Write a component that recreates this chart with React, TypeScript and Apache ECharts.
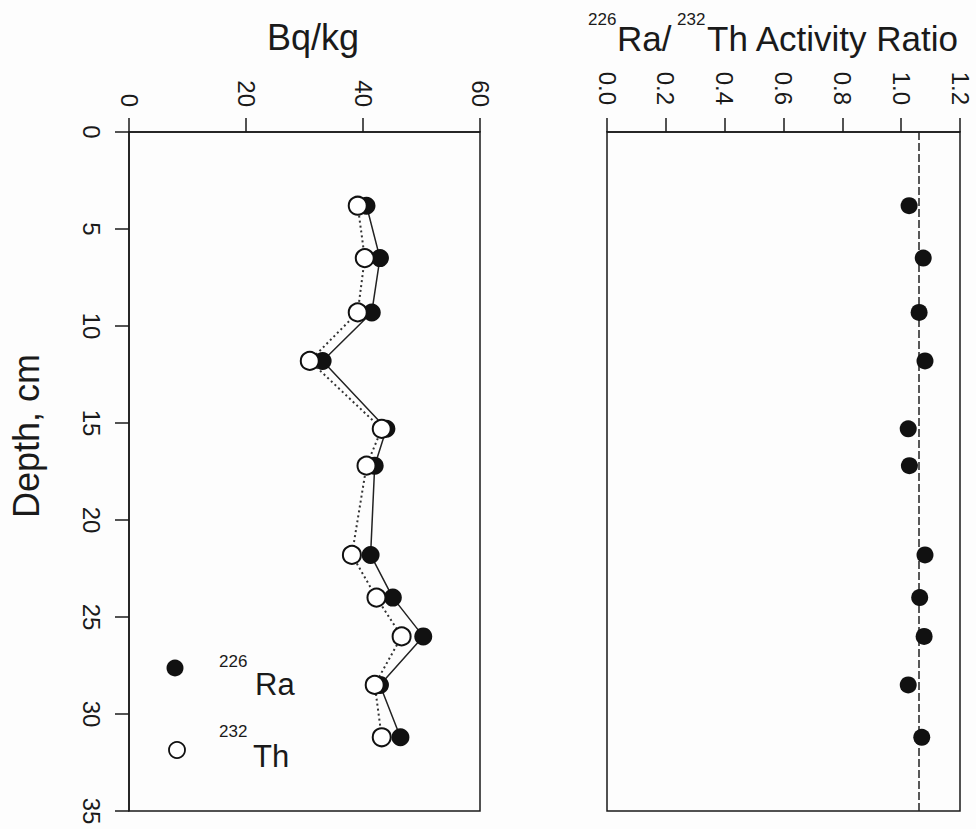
import React, { useEffect, useRef } from "react";
import * as echarts from "echarts";

// Sample depths (cm) shared by both panels
const depthCm = [3.8, 6.5, 9.3, 11.8, 15.3, 17.2, 21.8, 24.0, 26.0, 28.5, 31.2];
// Activity concentrations, Bq/kg
const ra226 = [40.6, 42.9, 41.5, 33.1, 44.0, 42.0, 41.3, 45.1, 50.3, 42.9, 46.4];
const th232 = [39.1, 40.3, 39.1, 30.9, 43.2, 40.6, 38.1, 42.3, 46.6, 42.0, 43.2];
// 226Ra/232Th activity ratio
const activityRatio = [1.027, 1.075, 1.061, 1.081, 1.024, 1.028, 1.081, 1.063, 1.078, 1.024, 1.07];
// Mean ratio, drawn as the dashed reference line
const meanRatio = 1.056;

// Axis ranges and tick labels
const bqRange = { min: 0, max: 60, interval: 20 };
const ratioRange = { min: 0, max: 1.2, interval: 0.2 };
const depthRange = { min: 0, max: 35, interval: 5 };
const bqTicks = [0, 20, 40, 60];
const ratioTicks = [0, 0.2, 0.4, 0.6, 0.8, 1.0, 1.2];
const depthTicks = [0, 5, 10, 15, 20, 25, 30, 35];

const FONT = "'Liberation Sans', Arial, Helvetica, sans-serif";
const INK = "#1a1a1a";
const TICK_FONT = `24px ${FONT}`;

export default function App() {
  const ref = useRef<HTMLDivElement>(null);

  useEffect(() => {
    if (!ref.current) return;
    const chart = echarts.init(ref.current, undefined, { renderer: "svg" });

    const pairs = (xs: number[]) => xs.map((v, i) => [v, depthCm[i]]);

    const topAxis = (range: { min: number; max: number; interval: number }, gridIndex: number) => ({
      type: "value",
      gridIndex,
      position: "top",
      min: range.min,
      max: range.max,
      interval: range.interval,
      axisLine: { show: true, lineStyle: { color: INK, width: 1.5 } },
      axisTick: { show: true, inside: false, length: 14, lineStyle: { color: INK, width: 1.5 } },
      // tick labels are drawn below as clockwise-rotated text
      axisLabel: { show: false },
      splitLine: { show: false },
    });

    const option: any = {
      animation: false,
      backgroundColor: "#fdfdfd",
      grid: [
        { left: 129, top: 132, width: 351, height: 679, show: true, borderColor: INK, borderWidth: 1.5, backgroundColor: "transparent" },
        { left: 607, top: 132, width: 353, height: 679, show: true, borderColor: INK, borderWidth: 1.5, backgroundColor: "transparent" },
      ],
      xAxis: [topAxis(bqRange, 0), topAxis(ratioRange, 1)],
      yAxis: [
        {
          type: "value",
          gridIndex: 0,
          inverse: true,
          min: depthRange.min,
          max: depthRange.max,
          interval: depthRange.interval,
          axisLine: { show: true, lineStyle: { color: INK, width: 1.5 } },
          axisTick: { show: true, inside: false, length: 14, lineStyle: { color: INK, width: 1.5 } },
          axisLabel: { show: false },
          splitLine: { show: false },
        },
        {
          type: "value",
          gridIndex: 1,
          inverse: true,
          min: depthRange.min,
          max: depthRange.max,
          interval: depthRange.interval,
          axisLine: { show: false },
          axisTick: { show: false },
          axisLabel: { show: false },
          splitLine: { show: false },
        },
      ],
      series: [
        {
          name: "226Ra",
          type: "line",
          xAxisIndex: 0,
          yAxisIndex: 0,
          data: pairs(ra226),
          symbol: "circle",
          symbolSize: 18,
          itemStyle: { color: "#111", opacity: 1 },
          lineStyle: { color: "#222", width: 1.5 },
          z: 2,
        },
        {
          name: "232Th",
          type: "line",
          xAxisIndex: 0,
          yAxisIndex: 0,
          data: pairs(th232),
          symbol: "circle",
          symbolSize: 18,
          itemStyle: { color: "#ffffff", borderColor: "#111", borderWidth: 2, opacity: 1 },
          lineStyle: { color: "#333", width: 2, type: [2, 3] },
          z: 3,
        },
        {
          name: "ratio",
          type: "scatter",
          xAxisIndex: 1,
          yAxisIndex: 1,
          data: pairs(activityRatio),
          symbol: "circle",
          symbolSize: 17,
          itemStyle: { color: "#111", opacity: 1 },
          z: 3,
          markLine: {
            silent: true,
            symbol: "none",
            label: { show: false },
            lineStyle: { color: "#222", width: 1.5, type: [8, 3] },
            data: [{ xAxis: meanRatio }],
            z: 2,
          },
        },
      ],
    };

    chart.setOption(option);

    // Tick labels read top-to-bottom; place them from the axes' own scales
    const topLabel = (value: number, text: string, xAxisIndex: number, yAxisIndex: number, margin: number) => {
      const [px] = chart.convertToPixel({ xAxisIndex, yAxisIndex } as any, [value, depthRange.min]) as number[];
      const [, py] = chart.convertToPixel({ xAxisIndex, yAxisIndex } as any, [value, depthRange.min]) as number[];
      return {
        type: "text",
        x: px,
        y: py - margin,
        rotation: -Math.PI / 2,
        style: { text, font: TICK_FONT, fill: INK, textAlign: "right", textVerticalAlign: "middle" },
      };
    };
    const leftLabel = (value: number) => {
      const [px, py] = chart.convertToPixel({ xAxisIndex: 0, yAxisIndex: 0 } as any, [bqRange.min, value]) as number[];
      return {
        type: "text",
        x: px - 26,
        y: py,
        rotation: -Math.PI / 2,
        style: { text: String(value), font: TICK_FONT, fill: INK, textAlign: "center", textVerticalAlign: "top" },
      };
    };

    const graphic: any[] = [
      ...bqTicks.map((v) => topLabel(v, String(v), 0, 0, 25)),
      ...ratioTicks.map((v) => topLabel(v, v.toFixed(1), 1, 1, 27)),
      ...depthTicks.map((v) => leftLabel(v)),
      // Panel titles
      { type: "text", x: 313, y: 37, style: { text: "Bq/kg", font: `36px ${FONT}`, fill: INK, textAlign: "center", textVerticalAlign: "middle" } },
      { type: "text", x: 588, y: 19, style: { text: "226", font: `17px ${FONT}`, fill: INK, textAlign: "left", textVerticalAlign: "middle" } },
      { type: "text", x: 617, y: 38, style: { text: "Ra/", font: `35px ${FONT}`, fill: INK, textAlign: "left", textVerticalAlign: "middle" } },
      { type: "text", x: 677, y: 19, style: { text: "232", font: `17px ${FONT}`, fill: INK, textAlign: "left", textVerticalAlign: "middle" } },
      { type: "text", x: 707, y: 38, style: { text: "Th Activity Ratio", font: `35px ${FONT}`, fill: INK, textAlign: "left", textVerticalAlign: "middle" } },
      // Depth axis title, reading bottom to top
      { type: "text", x: 26, y: 436, rotation: Math.PI / 2, style: { text: "Depth, cm", font: `36px ${FONT}`, fill: INK, textAlign: "center", textVerticalAlign: "middle" } },
      // Legend
      { type: "circle", shape: { cx: 175, cy: 668, r: 8.5 }, style: { fill: "#111" } },
      { type: "circle", shape: { cx: 177, cy: 750, r: 8 }, style: { fill: "#fff", stroke: "#111", lineWidth: 1.8 } },
      { type: "text", x: 219, y: 661, style: { text: "226", font: `17px ${FONT}`, fill: INK, textAlign: "left", textVerticalAlign: "middle" } },
      { type: "text", x: 255, y: 684, style: { text: "Ra", font: `31px ${FONT}`, fill: INK, textAlign: "left", textVerticalAlign: "middle" } },
      { type: "text", x: 219, y: 731, style: { text: "232", font: `17px ${FONT}`, fill: INK, textAlign: "left", textVerticalAlign: "middle" } },
      { type: "text", x: 253, y: 756, style: { text: "Th", font: `31px ${FONT}`, fill: INK, textAlign: "left", textVerticalAlign: "middle" } },
    ];

    chart.setOption({ graphic });
    return () => chart.dispose();
  }, []);

  return (
    <div
      ref={ref}
      style={{ position: "absolute", left: 0, top: 0, width: 976, height: 829 }}
    />
  );
}
